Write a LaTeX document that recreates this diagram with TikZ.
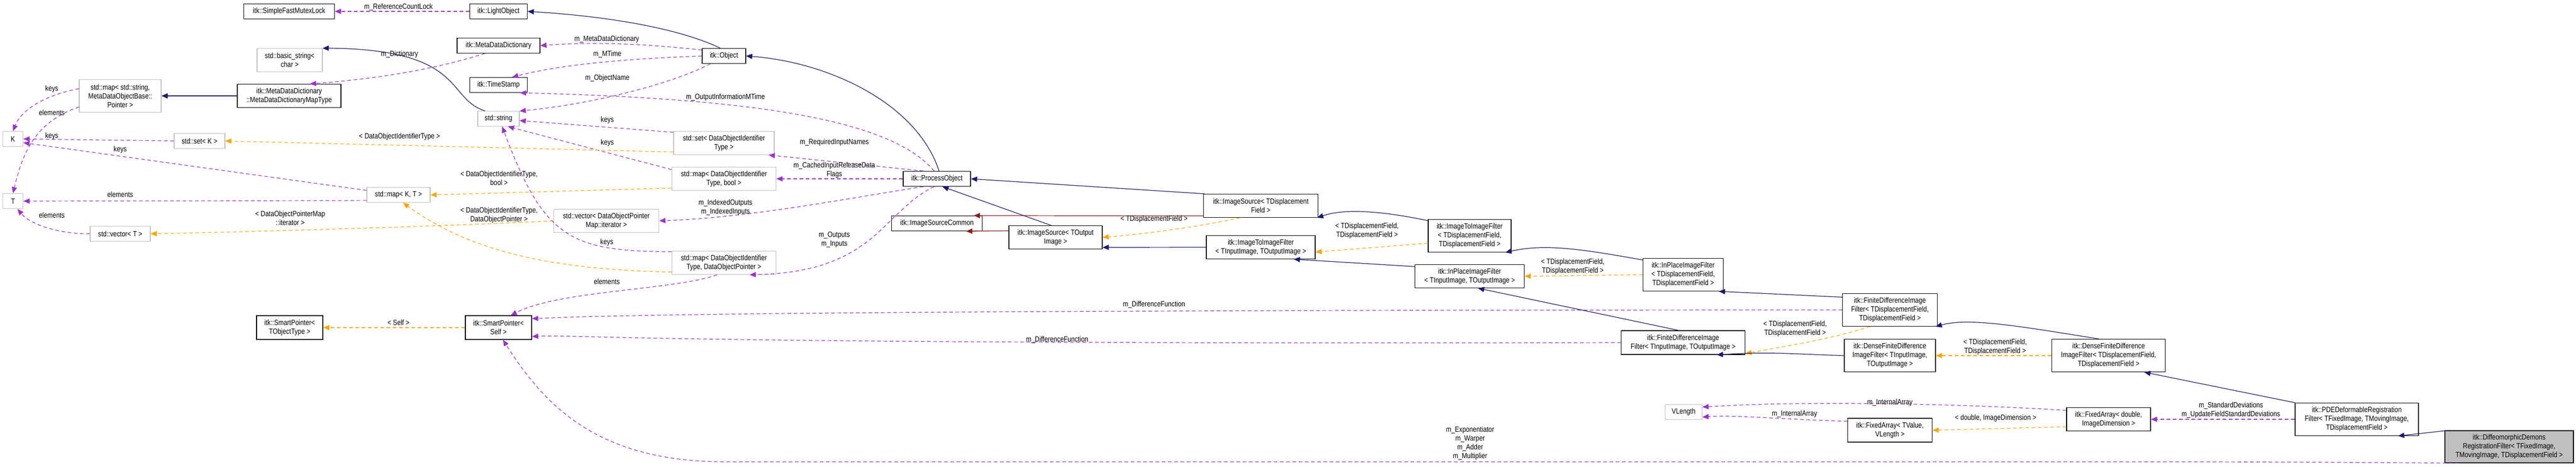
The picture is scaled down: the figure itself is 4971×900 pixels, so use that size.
\documentclass[tikz,border=0pt]{standalone}
\usepackage{fontspec}
\setmainfont{Liberation Sans}[FakeStretch=0.84]
\usetikzlibrary{arrows.meta}
\definecolor{usec}{RGB}{154,50,205}
\definecolor{tplc}{RGB}{255,165,0}
\definecolor{inhc}{RGB}{25,25,112}
\definecolor{prc}{RGB}{139,26,26}
\definecolor{grayb}{RGB}{191,191,191}
\begin{document}
\begin{tikzpicture}[x=0.5pt,y=-0.5pt,
  font=\fontsize{7.3}{8.5}\selectfont,
  box/.style={draw, line width=0.6pt, fill=white, align=center, inner sep=1pt},
  doc/.style={box, draw=black},
  gray/.style={box, draw=grayb},
  docg/.style={box, draw=black, fill={rgb,255:red,191;green,191;blue,191}},
  w/.style={minimum width=#1*0.5pt},
  h/.style={minimum height=#1*0.5pt},
  tip/.style={-{Triangle[length=6pt,width=5pt]}},
  use/.style={tip, draw=usec, line width=0.6pt, dash pattern=on 3.5pt off 2.5pt},
  tpl/.style={tip, draw=tplc, line width=0.6pt, dash pattern=on 3.5pt off 2.5pt},
  inh/.style={tip, draw=inhc, line width=0.6pt},
  prv/.style={tip, draw=prc, line width=0.6pt},
  lbl/.style={align=center, inner sep=0pt}]
\useasboundingbox (0,0) rectangle (4971,900);

% nodes
\node[doc,w=175,h=29] (sfml) at (558,22) {itk::SimpleFastMutexLock};
\node[doc,w=111,h=29] (light) at (962,22) {itk::LightObject};
\node[doc,w=160,h=29] (mdd) at (962,88) {itk::MetaDataDictionary};
\node[doc,w=84,h=29] (obj) at (1397,108) {itk::Object};
\node[doc,w=111,h=29] (ts) at (962,164) {itk::TimeStamp};
\node[gray,w=126,h=45] (bstr) at (559,116) {std::basic\_string\textless\\char \textgreater};
\node[gray,w=80,h=29] (str) at (962,229) {std::string};
\node[gray,w=158,h=63] (mapsm) at (232,185) {std::map\textless{} std::string,\\MetaDataObjectBase::\\Pointer \textgreater};
\node[doc,w=200,h=45] (mtype) at (558,185) {itk::MetaDataDictionary\\::MetaDataDictionaryMapType};
\node[gray,w=39,h=29] (K) at (25,268) {K};
\node[gray,w=39,h=29] (T) at (25,388) {T};
\node[gray,w=98,h=29] (setK) at (385,272) {std::set\textless{} K \textgreater};
\node[gray,w=116,h=29] (vecT) at (232,451) {std::vector\textless{} T \textgreater};
\node[gray,w=122,h=29] (mapKT) at (769,376) {std::map\textless{} K, T \textgreater};
\node[gray,w=194,h=45] (setD) at (1397,276) {std::set\textless{} DataObjectIdentifier\\Type \textgreater};
\node[gray,w=201,h=45] (mapDB) at (1397,345) {std::map\textless{} DataObjectIdentifier\\Type, bool \textgreater};
\node[gray,w=203,h=45] (vecI) at (1170,426) {std::vector\textless{} DataObjectPointer\\Map::iterator \textgreater};
\node[gray,w=201,h=45] (mapDP) at (1397,507) {std::map\textless{} DataObjectIdentifier\\Type, DataObjectPointer \textgreater};
\node[doc,w=128,h=46] (spS) at (962,632) {itk::SmartPointer\textless\\Self \textgreater};
\node[doc,w=128,h=46] (spT) at (559,632) {itk::SmartPointer\textless\\TObjectType \textgreater};
\node[doc,w=130,h=29] (po) at (1808,345) {itk::ProcessObject};
\node[doc,w=175,h=29] (isc) at (1808,431) {itk::ImageSourceCommon};
\node[doc,w=180,h=45] (isO) at (2037,458) {itk::ImageSource\textless{} TOutput\\Image \textgreater};
\node[doc,w=221,h=45] (isD) at (2433,397) {itk::ImageSource\textless{} TDisplacement\\Field \textgreater};
\node[doc,w=210,h=45] (itiO) at (2433,477) {itk::ImageToImageFilter\\\textless{} TInputImage, TOutputImage \textgreater};
\node[doc,w=160,h=63] (itiD) at (2836,455) {itk::ImageToImageFilter\\\textless{} TDisplacementField,\\TDisplacementField \textgreater};
\node[doc,w=211,h=45] (ipO) at (2836,533) {itk::InPlaceImageFilter\\\textless{} TInputImage, TOutputImage \textgreater};
\node[doc,w=155,h=63] (ipD) at (3248,530) {itk::InPlaceImageFilter\\\textless{} TDisplacementField,\\TDisplacementField \textgreater};
\node[doc,w=239,h=46] (fdO) at (3248,661) {itk::FiniteDifferenceImage\\Filter\textless{} TInputImage, TOutputImage \textgreater};
\node[doc,w=183,h=63] (fdD) at (3647,598) {itk::FiniteDifferenceImage\\Filter\textless{} TDisplacementField,\\TDisplacementField \textgreater};
\node[doc,w=176,h=63] (dfO) at (3647,686) {itk::DenseFiniteDifference\\ImageFilter\textless{} TInputImage,\\TOutputImage \textgreater};
\node[doc,w=219,h=63] (dfD) at (4069,686) {itk::DenseFiniteDifference\\ImageFilter\textless{} TDisplacementField,\\TDisplacementField \textgreater};
\node[doc,w=163,h=46] (faTV) at (3647,830) {itk::FixedArray\textless{} TValue,\\VLength \textgreater};
\node[gray,w=71,h=29] (vlen) at (3249,795) {VLength};
\node[doc,w=162,h=45] (faD) at (4069,809) {itk::FixedArray\textless{} double,\\ImageDimension \textgreater};
\node[doc,w=238,h=63] (pde) at (4548,809) {itk::PDEDeformableRegistration\\Filter\textless{} TFixedImage, TMovingImage,\\TDisplacementField \textgreater};
\node[docg,w=248,h=62] (diff) at (4842,862) {itk::DiffeomorphicDemons\\RegistrationFilter\textless{} TFixedImage,\\TMovingImage, TDisplacementField \textgreater};

% usage edges
\draw[use] (light.west) -- (sfml.east);
\draw[use] (obj.165) .. controls (1250,85) and (1150,80) .. (mdd.east);
\draw[use] (obj.west) .. controls (1250,112) and (1100,120) .. (ts.30);
\draw[use] (obj.-150) .. controls (1300,160) and (1150,200) .. (str.20);
\draw[use] (mdd.-150) .. controls (850,130) and (750,150) .. (mtype.30);
\draw[use] (po.110) .. controls (1720,230) and (1450,190) .. (ts.-20);
\draw[use] (setD.168) -- (str.-5);
\draw[use] (mapDB.170) -- (str.-40);
\draw[use] (mapDP.168) .. controls (1100,485) and (1050,460) .. (str.-65);
\draw[use] (po.150) -- (setD.-15);
\draw[use] (po.west) -- (mapDB.east);
\draw[use] (po.-150) .. controls (1650,380) and (1450,420) .. (vecI.east);
\draw[use] (po.-110) .. controls (1700,410) and (1690,525) .. (mapDP.-25);
\draw[use] (mapsm.170) .. controls (80,185) and (40,215) .. (K.north);
\draw[use] (mapsm.195) .. controls (70,235) and (45,290) .. (T.north);
\draw[use] (setK.west) -- (K.east);
\draw[use] (mapKT.172) -- (K.-20);
\draw[use] (mapKT.190) -- (T.east);
\draw[use] (vecT.west) .. controls (120,452) and (60,435) .. (T.-60);
\draw[use] (mapDP.-120) .. controls (1300,560) and (1080,560) .. (spS.45);
\draw[use] (fdD.west) .. controls (1300,598) and (1100,612) .. (spS.15);
\draw[use] (fdO.west) .. controls (1300,665) and (1100,645) .. (spS.-15);
\draw[use] (diff.198) .. controls (4500,892) and (4400,891) .. (4200,891) -- (1400,891) .. controls (1150,891) and (1050,780) .. (spS.-70);
\draw[use] (pde.west) -- (faD.east);
\draw[use] (faD.168) .. controls (3800,780) and (3500,772) .. (vlen.15);
\draw[use] (faTV.168) .. controls (3450,810) and (3350,800) .. (vlen.-15);

% template edges
\draw[tpl] (setD.190) -- (setK.east);
\draw[tpl] (mapDB.190) -- (mapKT.east);
\draw[tpl] (mapDP.190) .. controls (1050,520) and (900,480) .. (mapKT.-60);
\draw[tpl] (vecI.west) .. controls (900,435) and (500,447) .. (vecT.east);
\draw[tpl] (spS.west) -- (spT.east);
\draw[tpl] (isD.-150) .. controls (2300,440) and (2200,452) .. (isO.east);
\draw[tpl] (itiD.190) -- (itiO.-5);
\draw[tpl] (ipD.west) -- (ipO.east);
\draw[tpl] (fdD.-140) .. controls (3530,655) and (3450,667) .. (fdO.-10);
\draw[tpl] (dfD.west) -- (dfO.east);
\draw[tpl] (faD.190) -- (faTV.east);

% inheritance edges
\draw[inh] (obj.115) .. controls (1300,50) and (1150,30) .. (light.east);
\draw[inh] (str.150) .. controls (860,190) and (900,95) .. (bstr.20);
\draw[inh] (mtype.west) -- (mapsm.east);
\draw[inh] (po.75) .. controls (1770,200) and (1600,120) .. (obj.east);
\draw[inh] (isO.110) -- (po.-55);
\draw[inh] (isD.168) -- (po.east);
\draw[inh] (itiO.west) -- (isO.-12);
\draw[inh] (itiD.160) .. controls (2680,410) and (2600,400) .. (isD.-12);
\draw[inh] (ipO.170) -- (itiO.-20);
\draw[inh] (ipD.160) .. controls (3050,480) and (2980,470) .. (itiD.-25);
\draw[inh] (fdO.110) -- (ipO.-55);
\draw[inh] (fdD.165) -- (ipD.-25);
\draw[inh] (dfO.west) .. controls (3450,683) and (3420,678) .. (fdO.-20);
\draw[inh] (dfD.120) .. controls (3900,630) and (3800,612) .. (fdD.-20);
\draw[inh] (pde.north west) -- (dfD.-25);
\draw[inh] (diff.165) -- (pde.-22);

% private-base edges
\draw[prv] (isO.172) -- (isc.-15);
\draw[prv] (isD.190) -- (isc.12);

% labels
\node[lbl] (l1) at (769,14) {m\_ReferenceCountLock};
\node[lbl] (l2) at (1171,76) {m\_MetaDataDictionary};
\node[lbl] (l3) at (1172,105) {m\_MTime};
\node[lbl] (l4) at (1172,151) {m\_ObjectName};
\node[lbl] (l5) at (771,105) {m\_Dictionary};
\node[lbl] (l6) at (1400,188) {m\_OutputInformationMTime};
\node[lbl] (l7) at (1172,232) {keys};
\node[lbl] (l8) at (1172,276) {keys};
\node[lbl] (l9) at (1171,468) {keys};
\node[lbl] (l10) at (1610,275) {m\_RequiredInputNames};
\node[lbl] (l11) at (1610,328) {m\_CachedInputReleaseData\\Flags};
\node[lbl] (l12) at (1400,400) {m\_IndexedOutputs\\m\_IndexedInputs};
\node[lbl] (l13) at (1610,462) {m\_Outputs\\m\_Inputs};
\node[lbl] (l14) at (100,172) {keys};
\node[lbl] (l15) at (100,217) {elements};
\node[lbl] (l16) at (100,263) {keys};
\node[lbl] (l17) at (232,289) {keys};
\node[lbl] (l18) at (232,375) {elements};
\node[lbl] (l19) at (100,415) {elements};
\node[lbl] (l20) at (1171,543) {elements};
\node[lbl] (l21) at (2227,588) {m\_DifferenceFunction};
\node[lbl] (l22) at (2040,656) {m\_DifferenceFunction};
\node[lbl] (l23) at (2837,855) {m\_Exponentiator\\m\_Warper\\m\_Adder\\m\_Multiplier};
\node[lbl] (l24) at (4305,791) {m\_StandardDeviations\\m\_UpdateFieldStandardDeviations};
\node[lbl] (l25) at (3647,777) {m\_InternalArray};
\node[lbl] (l26) at (3463,799) {m\_InternalArray};
\node[lbl] (t1) at (771,264) {\textless{} DataObjectIdentifierType \textgreater};
\node[lbl] (t2) at (963,344) {\textless{} DataObjectIdentifierType,\\bool \textgreater};
\node[lbl] (t3) at (963,415) {\textless{} DataObjectIdentifierType,\\DataObjectPointer \textgreater};
\node[lbl] (t4) at (560,421) {\textless{} DataObjectPointerMap\\::iterator \textgreater};
\node[lbl] (t5) at (769,622) {\textless{} Self \textgreater};
\node[lbl] (t6) at (2227,423) {\textless{} TDisplacementField \textgreater};
\node[lbl] (t7) at (2638,445) {\textless{} TDisplacementField,\\TDisplacementField \textgreater};
\node[lbl] (t8) at (3035,514) {\textless{} TDisplacementField,\\TDisplacementField \textgreater};
\node[lbl] (t9) at (3464,634) {\textless{} TDisplacementField,\\TDisplacementField \textgreater};
\node[lbl] (t10) at (3850,669) {\textless{} TDisplacementField,\\TDisplacementField \textgreater};
\node[lbl] (t11) at (3851,807) {\textless{} double, ImageDimension \textgreater};
\end{tikzpicture}
\end{document}
